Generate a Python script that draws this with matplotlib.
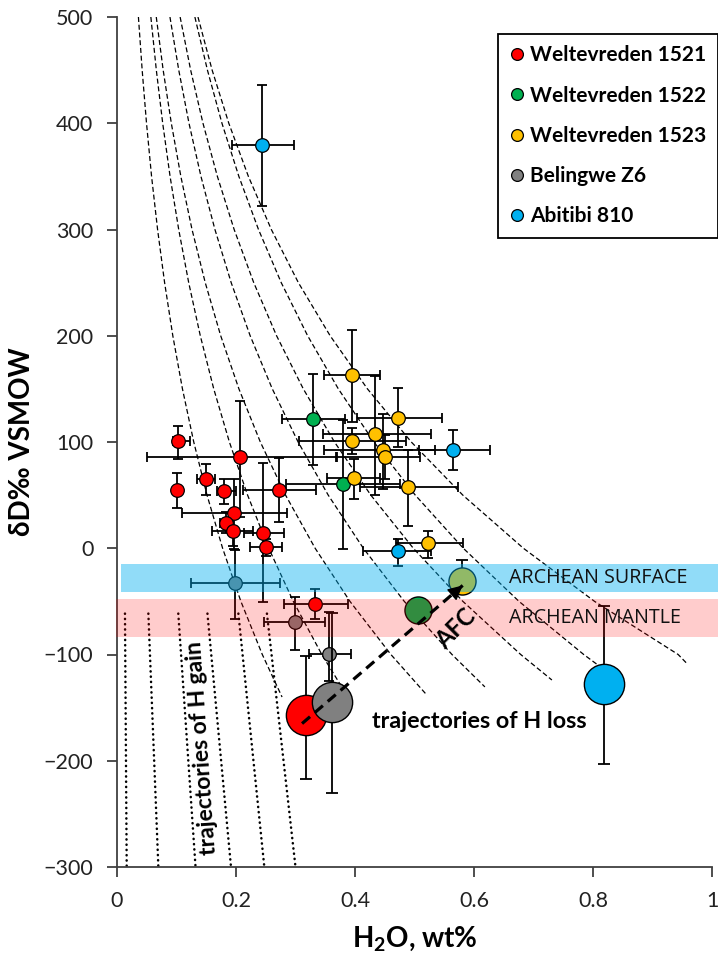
import matplotlib
matplotlib.use("Agg")
import matplotlib.pyplot as plt
from matplotlib.lines import Line2D
from matplotlib.patches import Rectangle

# ---------------- data ----------------
series_names = ["Weltevreden 1521", "Weltevreden 1522", "Weltevreden 1523", "Belingwe Z6", "Abitibi 810"]
series_colors = ["#FF0000", "#00B050", "#FFC000", "#808080", "#00B0F0"]

# Weltevreden 1521 (small symbols)
w1521_x = [0.1025, 0.207, 0.100, 0.149, 0.180, 0.272, 0.197, 0.183, 0.195, 0.246, 0.250, 0.333]
w1521_y = [101, 86, 55, 65, 54, 55, 33, 24, 16, 14.5, 1, -52]
w1521_xlo = [0.008, 0.156, 0.0, 0.015, 0.0125, 0.060, 0.088, 0.010, 0.035, 0.033, 0.027, 0.053]
w1521_xhi = [0.020, 0.162, 0.0, 0.015, 0.0195, 0.062, 0.088, 0.010, 0.034, 0.035, 0.028, 0.056]
w1521_ylo = [17, 57, 17, 14.5, 12, 30, 34, 10, 14, 65, 8, 15]
w1521_yhi = [14, 53, 16, 14, 11, 30, 32, 10, 12, 66, 8, 14]

# Weltevreden 1522
w1522_x = [0.330, 0.380]
w1522_y = [121.4, 60.8]
w1522_xlo = [0.052, 0.096]
w1522_xhi = [0.054, 0.096]
w1522_ylo = [43, 61.5]
w1522_yhi = [43, 60]

# Weltevreden 1523
w1523_x = [0.395, 0.473, 0.434, 0.3955, 0.4465, 0.450, 0.398, 0.489, 0.523]
w1523_y = [163.5, 122.7, 108, 101, 92.5, 86, 66.2, 57.8, 5]
w1523_xlo = [0.047, 0.069, 0.088, 0.0895, 0.0985, 0.082, 0.0445, 0.081, 0.054]
w1523_xhi = [0.047, 0.074, 0.093, 0.0895, 0.0875, 0.059, 0.044, 0.084, 0.059]
w1523_ylo = [44.5, 27.3, 57.5, 12.5, 36.3, 20.4, 19.4, 37.1, 13.8]
w1523_yhi = [42.3, 28.2, 53.9, 12.6, 33.6, 20.4, 18.2, 34.4, 11.3]

# Belingwe Z6
bel_x = [0.199, 0.299, 0.357]
bel_y = [-32.6, -69, -99.5]
bel_xlo = [0.074, 0.052, 0.035]
bel_xhi = [0.075, 0.051, 0.036]
bel_ylo = [34.2, 27, 25]
bel_yhi = [30.7, 23.2, 39.3]

# Abitibi 810
abi_x = [0.243, 0.565, 0.473]
abi_y = [380, 92.9, -2.8]
abi_xlo = [0.049, 0.057, 0.059]
abi_xhi = [0.055, 0.062, 0.054]
abi_ylo = [58, 19.5, 14.2]
abi_yhi = [56, 18.1, 11.9]

# large symbols (series index, x, y, lower err, upper err)
big_series = [0, 3, 1, 2, 4]
big_x = [0.317, 0.362, 0.506, 0.579, 0.818]
big_y = [-157, -145, -58.4, -31, -127.4]
big_ylo = [60, 85, 0, 0, 75.2]
big_yhi = [56, 84, 0, 20, 73.4]

# trajectories of H loss (dashed curves): H2O read at fixed dD levels
loss_levels = [500, 450, 400, 350, 300, 250, 200, 150, 100, 50, 0, -50, -100]
loss_x = [
    [0.0360, 0.0423, 0.0496, 0.0581, 0.0682, 0.0800, 0.0938, 0.1100, 0.1290, 0.1513, 0.1775, 0.2082, 0.2442],
    [0.0569, 0.0661, 0.0768, 0.0892, 0.1037, 0.1205, 0.1400, 0.1626, 0.1889, 0.2195, 0.2550, 0.2963, 0.3442],
    [0.0660, 0.0776, 0.0913, 0.1073, 0.1261, 0.1483, 0.1743, 0.2049, 0.2409, 0.2833, 0.3330, 0.3915, 0.4603],
    [0.0890, 0.1038, 0.1210, 0.1411, 0.1646, 0.1919, 0.2238, 0.2610, 0.3044, 0.3550, 0.4140, 0.4828, 0.5630],
    [0.1061, 0.1238, 0.1445, 0.1687, 0.1969, 0.2298, 0.2682, 0.3131, 0.3655, 0.4266, 0.4980, 0.5813, 0.6785],
    [0.1309, 0.1520, 0.1764, 0.2048, 0.2378, 0.2760, 0.3204, 0.3720, 0.4318, 0.5013, 0.5820, 0.6756, 0.7844],
    [0.1361, 0.1599, 0.1879, 0.2208, 0.2594, 0.3048, 0.3582, 0.4209, 0.4946, 0.5812, 0.6830, 0.8026, 0.9431],
]
loss_end_x = [0.2774, 0.3904, 0.5189, 0.6183, 0.7309, 0.8350, 0.9570]
loss_end_y = [-140, -142, -137, -130.5, -124, -121, -108]

# trajectories of H gain (dotted lines): top and bottom ends
gain_x_top = [0.0134, 0.0527, 0.103, 0.152, 0.204, 0.252]
gain_x_bot = [0.0163, 0.0695, 0.132, 0.1916, 0.2476, 0.300]
gain_y_top = -61.5
gain_y_bot = -300

# reference bands
band_names = ["ARCHEAN SURFACE", "ARCHEAN MANTLE"]
band_lo = [-41, -83.5]
band_hi = [-14.4, -48]
band_x0 = [0.006, -0.002]

# AFC arrow
afc_x = [0.311, 0.581]
afc_y = [-165, -35]

# ---------------- figure ----------------
W, H = 718, 961
fig = plt.figure(figsize=(W / 100, H / 100), dpi=100)
ax = fig.add_axes([117 / W, 1 - 867 / H, (712 - 117) / W, (867 - 17) / H])

FONT = ["Lato", "DejaVu Sans"]

ax.set_xlim(0, 1)
ax.set_ylim(-300, 500)
ax.set_xticks([0, 0.2, 0.4, 0.6, 0.8, 1])
ax.set_xticklabels(["0", "0.2", "0.4", "0.6", "0.8", "1"])
ax.set_yticks(range(-300, 501, 100))
for s in ["top", "right"]:
    ax.spines[s].set_visible(False)
for s in ["left", "bottom"]:
    ax.spines[s].set_color("#404040")
    ax.spines[s].set_linewidth(1.3)
ax.tick_params(direction="out", length=7, width=1.3, color="#404040",
               labelsize=15.5, pad=10)
for lab in ax.get_xticklabels() + ax.get_yticklabels():
    lab.set_family(FONT)
    lab.set_color("#222222")

ax.set_xlabel("H$_\\mathregular{2}$O, wt%", fontsize=20, fontweight="bold",
              family=FONT, labelpad=10)
ax.set_ylabel("δD‰ VSMOW", fontsize=20, fontweight="bold", family=FONT, labelpad=6)

# curves
for cx, ex, ey in zip(loss_x, loss_end_x, loss_end_y):
    ax.plot(cx + [ex], loss_levels + [ey], color="black", lw=0.9,
            linestyle=(0, (4, 2.2)), zorder=1)
for xt, xb in zip(gain_x_top, gain_x_bot):
    ax.plot([xt, xb], [gain_y_top, gain_y_bot], color="black", lw=1.8,
            linestyle=(0, (0.1, 2.0)), dash_capstyle="round", zorder=1)

# small symbols
small = [
    (w1521_x, w1521_y, w1521_xlo, w1521_xhi, w1521_ylo, w1521_yhi),
    (w1522_x, w1522_y, w1522_xlo, w1522_xhi, w1522_ylo, w1522_yhi),
    (w1523_x, w1523_y, w1523_xlo, w1523_xhi, w1523_ylo, w1523_yhi),
    (bel_x, bel_y, bel_xlo, bel_xhi, bel_ylo, bel_yhi),
    (abi_x, abi_y, abi_xlo, abi_xhi, abi_ylo, abi_yhi),
]
for i, (sx, sy, xlo, xhi, ylo, yhi) in enumerate(small):
    ax.errorbar(sx, sy, xerr=[xlo, xhi], yerr=[ylo, yhi], fmt="none",
                ecolor="black", elinewidth=1.3, capsize=3.5, capthick=1.3, zorder=2)
    ax.plot(sx, sy, "o", ms=9.8, mfc=series_colors[i], mec="black", mew=0.9,
            ls="none", zorder=3)

# big symbols
for k in range(len(big_x)):
    if big_ylo[k] > 0 or big_yhi[k] > 0:
        ax.errorbar([big_x[k]], [big_y[k]], yerr=[[big_ylo[k]], [big_yhi[k]]],
                    fmt="none", ecolor="black", elinewidth=1.3, capsize=4,
                    capthick=1.3, zorder=3.5)
for k in range(len(big_x)):
    ms = 29 if k in (0, 1, 4) else 19.5
    ax.plot([big_x[k]], [big_y[k]], "o", ms=ms, mfc=series_colors[big_series[k]],
            mec="black", mew=1.0, zorder=3.6 + 0.01 * k)

# bands (semi transparent, on top of symbols)
band_cols = [("#00B0F0", 0.43), ("#FF0000", 0.2)]
for j in range(2):
    rect = Rectangle((band_x0[j], band_lo[j]), 1.012 - band_x0[j], band_hi[j] - band_lo[j],
                     facecolor=band_cols[j][0], alpha=band_cols[j][1], edgecolor="none",
                     zorder=4, clip_on=False)
    ax.add_patch(rect)
    ax.text(0.658, (band_lo[j] + band_hi[j]) / 2, band_names[j], fontsize=14.2,
            family=["Open Sans", "DejaVu Sans"], va="center", ha="left", zorder=6,
            color="#111111")

# AFC arrow
ax.plot(afc_x, afc_y, color="black", lw=2.3, linestyle=(0, (3.3, 2.0)), zorder=5)
ax.annotate("", xy=(afc_x[1], afc_y[1]),
            xytext=(afc_x[1] - 0.02 * (afc_x[1] - afc_x[0]), afc_y[1] - 0.02 * (afc_y[1] - afc_y[0])),
            arrowprops=dict(arrowstyle="-|>,head_length=0.9,head_width=0.45",
                            color="black", lw=1.0, shrinkA=0, shrinkB=0), zorder=5)
ax.text(0.569, -76, "AFC", fontsize=17, fontweight="bold", family=FONT, rotation=45,
        ha="center", va="center", zorder=6)

ax.text(0.4286, -163.5, "trajectories of H loss", fontsize=16.8, fontweight="bold",
        family=FONT, ha="left", va="center", zorder=6)
ax.text(0.143, -188, "trajectories of H gain", fontsize=16.5, fontweight="bold",
        family=FONT, ha="center", va="center", rotation=94, rotation_mode="anchor", zorder=6)

# legend
handles = [Line2D([], [], marker="o", ls="none", ms=8.5, mfc=c, mec="black", mew=0.9)
           for c in series_colors]
leg = fig.legend(handles, series_names, loc="upper left",
                 bbox_to_anchor=(498 / W, 1 - 34 / H), bbox_transform=fig.transFigure,
                 frameon=True, fancybox=False, edgecolor="black", framealpha=1,
                 borderpad=0.55, labelspacing=0.97, handlelength=0.7, handletextpad=0.3,
                 borderaxespad=0, prop=dict(family=FONT, weight="bold", size=15))
leg.get_frame().set_linewidth(1.3)

fig.savefig("out.png", dpi=100)
